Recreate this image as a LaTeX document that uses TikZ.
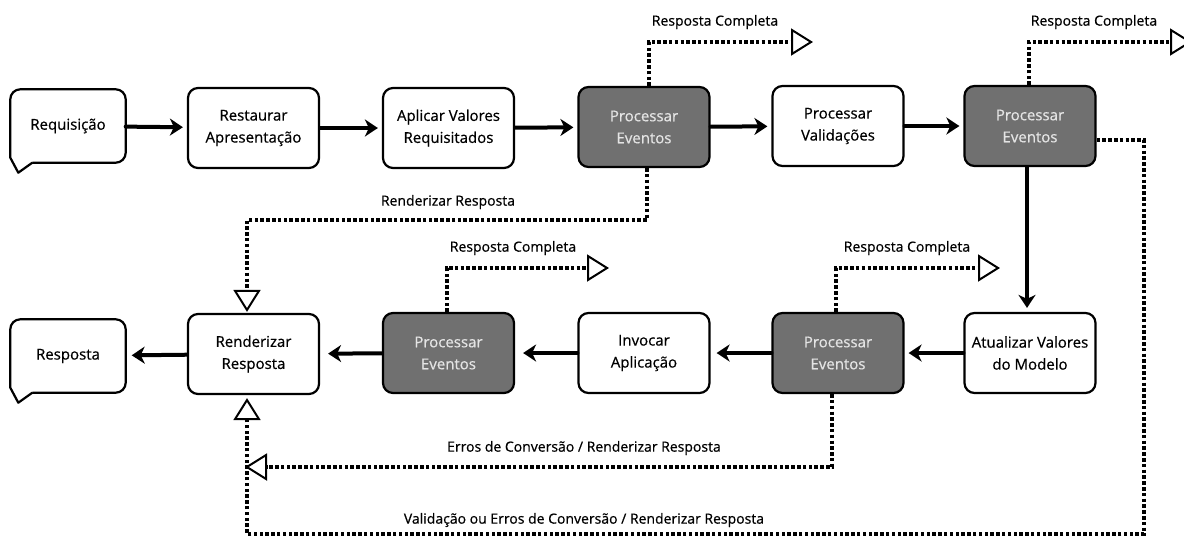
\documentclass[tikz,border=0pt]{standalone}
\usepackage{fontspec}
\setmainfont{Open Sans}
\newfontfamily\diafont{Open Sans}[FakeBold=0.6]
\usetikzlibrary{arrows.meta,calc}

\definecolor{evgray}{RGB}{112,112,112}
\definecolor{evtext}{RGB}{228,228,228}

\newcommand{\boxfont}{\diafont\fontsize{15}{22}\selectfont}
\newcommand{\lblfont}{\diafont\fontsize{14}{15}\selectfont}

\tikzset{
  box/.style={draw=black, line width=2.2pt, rounded corners=10pt,
    minimum width=131pt, minimum height=80pt, align=center,
    font=\boxfont, fill=white, inner sep=2pt},
  evbox/.style={box, fill=evgray, text=evtext},
  bubtext/.style={minimum width=115pt, minimum height=73pt,
    font=\boxfont, inner sep=0pt},
  bubline/.style={line width=2.2pt, line join=round},
  flow/.style={line width=4pt, line cap=round,
    -{Stealth[length=13pt,width=17pt,inset=4pt]}, shorten >=4pt},
  jump/.style={line width=4pt, dash pattern=on 3.5pt off 2.3pt,
    -{Triangle[open,length=22pt,width=27pt,line width=2pt]}},
  lbl/.style={font=\lblfont, inner sep=0pt}
}

\begin{document}
\begin{tikzpicture}[x=1pt,y=-1pt]
  % page area
  \fill[white] (0,0) rectangle (1184,542);
  \useasboundingbox (0,0) rectangle (1184,542);

  % first row
  \node[bubtext] (req) at (68,126) {Requisição};
  \node[box] (rest) at (253.5,128) {Restaurar\\Apresentação};
  \node[box] (apl)  at (448.5,128) {Aplicar Valores\\Requisitados};
  \node[evbox] (pe1) at (644,127) {Processar\\Eventos};
  \node[box] (val)  at (838,126) {Processar\\Validações};
  \node[evbox] (pe2) at (1030,126) {Processar\\Eventos};

  % second row
  \node[bubtext] (resp) at (68,356) {Resposta};
  \node[box] (rend) at (253.5,354) {Renderizar\\Resposta};
  \node[evbox] (pe3) at (448.5,353) {Processar\\Eventos};
  \node[box] (inv)  at (644,353) {Invocar\\Aplicação};
  \node[evbox] (pe4) at (838,353) {Processar\\Eventos};
  \node[box] (atu)  at (1030,353) {Atualizar Valores\\do Modelo};

  % speech bubbles
  \foreach \b in {req,resp}{
    \draw[bubline]
      ($(\b.south west)+(22,0)$) -- ($(\b.south west)+(8,10)$)
      -- ($(\b.south west)+(0,-5)$)
      [rounded corners=10pt] -- (\b.north west) -- (\b.north east)
      -- (\b.south east) -- ($(\b.south west)+(22,0)$);
  }

  % main flow
  \draw[flow] (req) -- (rest);
  \draw[flow] (rest) -- (apl);
  \draw[flow] (apl) -- (pe1);
  \draw[flow] (pe1) -- (val);
  \draw[flow] (val) -- (pe2);
  \draw[flow] ([xshift=-3pt]pe2.south) -- ([xshift=-3pt]atu.north);
  \draw[flow,shorten >=4pt] (atu) -- (pe4);
  \draw[flow,shorten >=6pt] (pe4) -- (inv);
  \draw[flow,shorten >=8pt] (inv) -- (pe3);
  \draw[flow,shorten >=8pt] (pe3) -- (rend);
  \draw[flow,shorten >=6pt] (rend) -- (resp);

  % "Resposta Completa" exits
  \coordinate (c1) at (813,42);
  \coordinate (c2) at (1192,42);
  \coordinate (c3) at (609,268);
  \coordinate (c4) at (1000,268);
  \draw[jump] ([xshift=5pt]pe1.north) |- (c1);
  \draw[jump] ([xshift=-1pt]pe2.north) |- (c2);
  \draw[jump] ([xshift=-2pt]pe3.north) |- (c3);
  \draw[jump] ([xshift=-2pt]pe4.north) |- (c4);
  \node[lbl] (l1) at (715,22) {Resposta Completa};
  \node[lbl] (l2) at (1094,22) {Resposta Completa};
  \node[lbl] (l3) at (513,248) {Resposta Completa};
  \node[lbl] (l4) at (907,248) {Resposta Completa};

  % jumps to render response
  \coordinate (k1) at (247,220);
  \draw[jump] ([xshift=3pt]pe1.south) |- (k1) -- ([xshift=-6.5pt,yshift=1pt]rend.north);
  \node[lbl] (l5) at (448,202) {Renderizar Resposta};

  \coordinate (c5) at (245,467);
  \draw[jump] ([xshift=-6pt]pe4.south) |- (c5);
  \node[lbl] (l6) at (584,448) {Erros de Conversão / Renderizar Resposta};

  \coordinate (k2) at (1144,534);
  \draw[jump] ([yshift=-14pt]pe2.east) -| (k2)
    -| ([xshift=-6.5pt,yshift=-3pt]rend.south);
  \node[lbl] (l7) at (584,520) {Validação ou Erros de Conversão / Renderizar Resposta};
\end{tikzpicture}
\end{document}
